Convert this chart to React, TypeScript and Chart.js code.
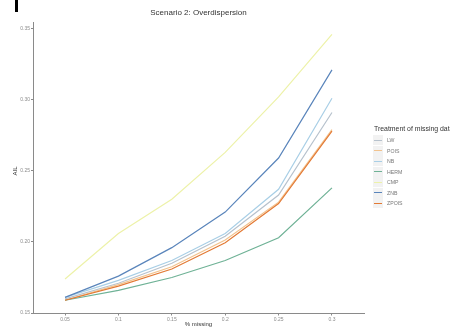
import React, { useEffect, useRef } from "react";
import { Chart, registerables } from "chart.js";

Chart.register(...registerables);

const xValues = [0.05, 0.1, 0.15, 0.2, 0.25, 0.3];
const xTickLabels = ["0.05", "0.1", "0.15", "0.2", "0.25", "0.3"];
const yTickValues = [0.15, 0.2, 0.25, 0.3, 0.35];
const yTickLabels = ["0.15", "0.20", "0.25", "0.30", "0.35"];

const seriesNames = ["LW", "POIS", "NB", "HERM", "CMP", "ZNB", "ZPOIS"];
const seriesColors = ["#b7c2cd", "#f2c38e", "#a9cfe6", "#6fb296", "#edf2a9", "#5a85bb", "#e37a35"];

const lw = [0.16, 0.171, 0.185, 0.204, 0.233, 0.291];
const pois = [0.159, 0.17, 0.1826, 0.2014, 0.228, 0.279];
const nb = [0.161, 0.173, 0.187, 0.206, 0.237, 0.301];
const herm = [0.159, 0.166, 0.175, 0.187, 0.203, 0.238];
const cmp = [0.174, 0.206, 0.23, 0.263, 0.302, 0.346];
const znb = [0.161, 0.176, 0.196, 0.221, 0.259, 0.321];
const zpois = [0.159, 0.169, 0.181, 0.1995, 0.227, 0.278];

const seriesValues = [lw, pois, nb, herm, cmp, znb, zpois];

const FONT = "'Liberation Sans', Arial, sans-serif";

export default function App() {
  const canvasRef = useRef<HTMLCanvasElement | null>(null);

  useEffect(() => {
    document.body.style.margin = "0";
    const canvas = canvasRef.current;
    if (!canvas) return;
    const chart = new Chart(canvas, {
      type: "line",
      data: {
        datasets: seriesNames.map((name, i) => ({
          label: name,
          data: seriesValues[i].map((v, j) => ({ x: xValues[j], y: v })),
          borderColor: seriesColors[i],
          backgroundColor: seriesColors[i],
          borderWidth: 1.2,
          pointRadius: 0,
          tension: 0,
          fill: false,
          order: seriesNames.length - i,
        })),
      },
      options: {
        animation: false,
        responsive: false,
        layout: { padding: { left: 0, right: 86, top: 22.5, bottom: 0 } },
        plugins: { legend: { display: false }, tooltip: { enabled: false }, title: { display: false } },
        scales: {
          x: {
            type: "linear",
            min: 0.02,
            max: 0.33,
            afterBuildTicks: (s: any) => {
              s.ticks = xValues.map((v) => ({ value: v }));
            },
            afterFit: (s: any) => {
              s.height = 17.5;
            },
            grid: { drawOnChartArea: false, drawTicks: true, tickLength: 2, color: "#8a8a8a", lineWidth: 1 },
            border: { display: true, color: "#8a8a8a", width: 1 },
            ticks: {
              autoSkip: false,
              maxRotation: 0,
              padding: 1,
              color: "#8c8c8c",
              font: { size: 5, family: FONT },
              callback: (_v: any, i: number) => xTickLabels[i],
            },
          },
          y: {
            type: "linear",
            min: 0.1497,
            max: 0.3543,
            afterBuildTicks: (s: any) => {
              s.ticks = yTickValues.map((v) => ({ value: v }));
            },
            afterFit: (s: any) => {
              s.width = 33;
            },
            grid: { drawOnChartArea: false, drawTicks: true, tickLength: 2, color: "#8a8a8a", lineWidth: 1 },
            border: { display: true, color: "#8a8a8a", width: 1 },
            ticks: {
              autoSkip: false,
              padding: 1,
              color: "#8c8c8c",
              font: { size: 5, family: FONT },
              callback: (_v: any, i: number) => yTickLabels[i],
            },
          },
        },
      },
    });
    return () => chart.destroy();
  }, []);

  return (
    <div style={{ position: "absolute", left: 0, top: 0, width: 450, height: 331, background: "#fff", overflow: "hidden", fontFamily: FONT }}>
      <canvas ref={canvasRef} width={450} height={331} style={{ position: "absolute", left: 0, top: 0 }} />
      <div style={{ position: "absolute", left: 15, top: 0, width: 3, height: 12, background: "#000" }} />
      <div style={{ position: "absolute", left: 33, width: 331, top: 8, textAlign: "center", fontSize: 8, color: "#333", lineHeight: "10px" }}>
        Scenario 2: Overdispersion
      </div>
      <div
        style={{
          position: "absolute",
          left: 15 - 20,
          top: 171 - 4,
          width: 40,
          textAlign: "center",
          fontSize: 6,
          lineHeight: "8px",
          color: "#333",
          transform: "rotate(-90deg)",
        }}
      >
        AIL
      </div>
      <div style={{ position: "absolute", left: 33, width: 331, top: 320, textAlign: "center", fontSize: 6, color: "#333", lineHeight: "8px" }}>
        % missing
      </div>
      <div style={{ position: "absolute", left: 374, top: 125, whiteSpace: "nowrap", fontSize: 6.9, color: "#333", lineHeight: "8px" }}>
        Treatment of missing data
      </div>
      {seriesNames.map((name, i) => (
        <div key={name} style={{ position: "absolute", left: 373, top: 135 + i * 10.5, height: 10, width: 60 }}>
          <div style={{ position: "absolute", left: 0, top: 0, width: 10, height: 10, background: "#f2f2f2" }} />
          <div style={{ position: "absolute", left: 1, top: 4.5, width: 8, height: 1.2, background: seriesColors[i] }} />
          <div style={{ position: "absolute", left: 14, top: 1, fontSize: 5.2, lineHeight: "8px", color: "#777" }}>{name}</div>
        </div>
      ))}
    </div>
  );
}
